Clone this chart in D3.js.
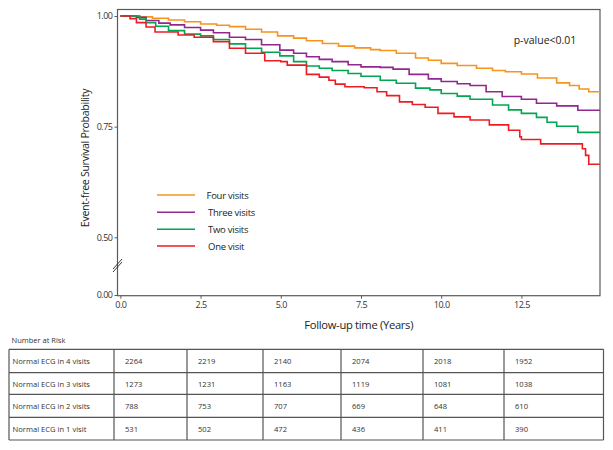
<!DOCTYPE html>
<html><head><meta charset="utf-8">
<script src="https://cdn.jsdelivr.net/npm/d3@7"></script>
<style>
html,body{margin:0;padding:0;background:#fff;}
svg{display:block;font-family:"Open Sans","Noto Sans",sans-serif;}
</style></head>
<body>
<svg id="chart" width="613" height="450"></svg>
<script>
// ---------- DATA ----------
const seriesNames = ["Four visits", "Three visits", "Two visits", "One visit"];
const endTime = 14.95;
const fourT = [0,0.6,1.0,1.5,2.0,2.5,3.0,3.4,3.9,4.4,4.9,5.4,5.8,6.3,6.8,7.3,7.8,8.1,8.6,9.2,9.6,10.0,10.5,11.1,11.6,12.0,12.5,13.0,13.6,14.0,14.3,14.6];
const fourS = [1.0,0.998,0.995,0.991,0.987,0.982,0.979,0.976,0.970,0.964,0.955,0.950,0.944,0.938,0.932,0.928,0.924,0.922,0.916,0.905,0.900,0.893,0.888,0.882,0.877,0.874,0.869,0.860,0.849,0.843,0.835,0.829];
const threeT = [0,0.5,0.8,1.2,1.55,2.0,2.5,2.9,3.4,3.9,4.4,4.97,5.4,5.8,6.2,6.6,7.1,7.5,8.1,8.5,9.0,9.6,10.0,10.5,10.9,11.4,11.9,12.5,12.97,13.6,14.26];
const threeS = [1.0,0.997,0.99,0.984,0.98,0.974,0.968,0.962,0.952,0.947,0.935,0.923,0.916,0.908,0.902,0.897,0.890,0.885,0.884,0.880,0.868,0.858,0.852,0.847,0.843,0.829,0.818,0.812,0.803,0.797,0.787];
const twoT = [0,0.6,0.8,1.1,1.5,2.0,2.5,2.9,3.4,3.9,4.4,4.97,5.4,5.8,6.2,6.6,7.1,7.5,8.1,8.6,9.2,9.65,10.0,10.5,10.9,11.6,12.1,12.5,12.97,13.3,13.6,14.26];
const twoS = [1.0,0.993,0.985,0.977,0.967,0.959,0.955,0.947,0.937,0.927,0.918,0.91,0.897,0.887,0.882,0.877,0.870,0.864,0.855,0.848,0.837,0.833,0.825,0.819,0.812,0.799,0.788,0.780,0.771,0.760,0.751,0.737];
const oneT = [0,0.3,0.5,0.8,1.08,1.8,2.3,2.9,3.4,3.9,4.5,5.0,5.2,5.8,6.2,6.5,6.7,7.0,7.6,8.0,8.3,8.7,9.1,9.5,9.9,10.4,10.9,11.5,12.1,12.45,12.5,13.1,14.4,14.5,14.6];
const oneS = [1.0,0.994,0.985,0.975,0.964,0.957,0.952,0.942,0.927,0.916,0.899,0.897,0.889,0.868,0.862,0.855,0.846,0.840,0.838,0.829,0.82,0.806,0.800,0.794,0.78,0.772,0.765,0.754,0.742,0.727,0.721,0.711,0.70,0.685,0.665];
const seriesColors = ["#f7941d", "#92278f", "#00a651", "#ed1c24"];
const xTicks = [0, 2.5, 5, 7.5, 10, 12.5];
const yTicks = [0, 0.5, 0.75, 1.0];
const riskLabels = ["Normal ECG in 4 visits", "Normal ECG in 3 visits", "Normal ECG in 2 visits", "Normal ECG in 1 visit"];
const risk4 = [2264, 2219, 2140, 2074, 2018, 1952];
const risk3 = [1273, 1231, 1163, 1119, 1081, 1038];
const risk2 = [788, 753, 707, 669, 648, 610];
const risk1 = [531, 502, 472, 436, 411, 390];

// ---------- LAYOUT ----------
const svg = d3.select("#chart");
const L = 117.5, R = 600, T = 9.5, B = 295.7;
const x = d3.scaleLinear().domain([-0.09, 14.95]).range([L, R]);
const y = d3.scaleLinear().domain([0, 0.5, 1.0]).range([295, 237.3, 16]);
const frameColor = "#5a5a5a";

// frame
svg.append("rect").attr("x", L).attr("y", T).attr("width", R - L).attr("height", B - T)
  .attr("fill", "none").attr("stroke", frameColor).attr("stroke-width", 1.2);

// y axis
const yAxis = d3.axisLeft(y).tickValues(yTicks).tickFormat(d3.format(".2f")).tickSize(3).tickPadding(2);
const gy = svg.append("g").attr("transform", `translate(${L},0)`).call(yAxis);
gy.select(".domain").remove();
gy.selectAll(".tick line").attr("stroke", frameColor);
gy.selectAll(".tick text").attr("font-size", 9).attr("fill", "#333").attr("font-family", "Open Sans").style("letter-spacing", "-0.5px");

// x axis
const xAxis = d3.axisBottom(x).tickValues(xTicks).tickFormat(d3.format(".1f")).tickSize(3).tickPadding(3);
const gx = svg.append("g").attr("transform", `translate(0,${B})`).call(xAxis);
gx.select(".domain").remove();
gx.selectAll(".tick line").attr("stroke", frameColor);
gx.selectAll(".tick text").attr("font-size", 9).attr("fill", "#333").attr("font-family", "Open Sans").style("letter-spacing", "-0.5px");

// axis break marks
[0, 3].forEach(off => {
  svg.append("line").attr("x1", 113).attr("y1", 272 - off).attr("x2", 122).attr("y2", 262 - off)
    .attr("stroke", "#222").attr("stroke-width", 0.9);
});

// titles
svg.append("text").attr("x", (L + R) / 2).attr("y", 329).attr("text-anchor", "middle")
  .attr("font-size", 11.2).attr("fill", "#222").style("letter-spacing", "-0.3px").text("Follow-up time (Years)");
svg.append("text").attr("transform", `translate(88.5,158) rotate(-90)`).attr("text-anchor", "middle")
  .attr("font-size", 10.6).attr("fill", "#222").style("letter-spacing", "-0.3px").text("Event-free Survival Probability");
svg.append("text").attr("x", 545).attr("y", 44).attr("text-anchor", "middle")
  .attr("font-size", 10.5).attr("fill", "#222").text("p-value<0.01");

// curves
const seriesT = [fourT, threeT, twoT, oneT];
const seriesS = [fourS, threeS, twoS, oneS];
const line = d3.line().x(d => x(d[0])).y(d => y(d[1])).curve(d3.curveStepAfter);
[0, 1, 2, 3].forEach(i => {
  const pts = seriesT[i].map((t, k) => [t, seriesS[i][k]]);
  pts.push([endTime, seriesS[i][seriesS[i].length - 1]]);
  svg.append("path").datum(pts).attr("d", line).attr("fill", "none")
    .attr("stroke", seriesColors[i]).attr("stroke-width", 1.6);
});

// legend
const legY = [195, 212.3, 229.3, 246];
seriesNames.forEach((n, i) => {
  svg.append("line").attr("x1", 157).attr("x2", 195).attr("y1", legY[i]).attr("y2", legY[i])
    .attr("stroke", seriesColors[i]).attr("stroke-width", 1.6);
  svg.append("text").attr("x", i === 0 ? 206.5 : 208).attr("y", legY[i] + 3.5)
    .attr("font-size", 9.5).attr("fill", "#222").style("letter-spacing", "-0.25px").text(n);
});

// number at risk table
svg.append("text").attr("x", 11.5).attr("y", 343).attr("font-size", 7.5).attr("fill", "#333").text("Number at Risk");
const colEdges = [9, 114, 187, 263, 341, 423, 504, 603.5];
const rowEdges = [349.3, 372.7, 394.3, 417.3, 440];
const riskRows = [risk4, risk3, risk2, risk1];
const tbl = svg.append("g");
rowEdges.forEach(ry => tbl.append("line").attr("x1", colEdges[0]).attr("x2", colEdges[colEdges.length - 1])
  .attr("y1", ry).attr("y2", ry).attr("stroke", "#555").attr("stroke-width", 1.2));
colEdges.forEach(cx => tbl.append("line").attr("x1", cx).attr("x2", cx)
  .attr("y1", rowEdges[0]).attr("y2", rowEdges[rowEdges.length - 1]).attr("stroke", "#555").attr("stroke-width", 1.2));
riskLabels.forEach((lab, r) => {
  const cy = (rowEdges[r] + rowEdges[r + 1]) / 2;
  tbl.append("text").attr("x", 12.5).attr("y", cy + 3).attr("font-size", 7.6).attr("fill", "#333").text(lab);
  riskRows[r].forEach((v, c) => {
    tbl.append("text").attr("x", colEdges[c + 1] + 11).attr("y", cy + 3).attr("font-size", 7.6)
      .attr("fill", "#333").text(v);
  });
});
</script>
</body></html>
